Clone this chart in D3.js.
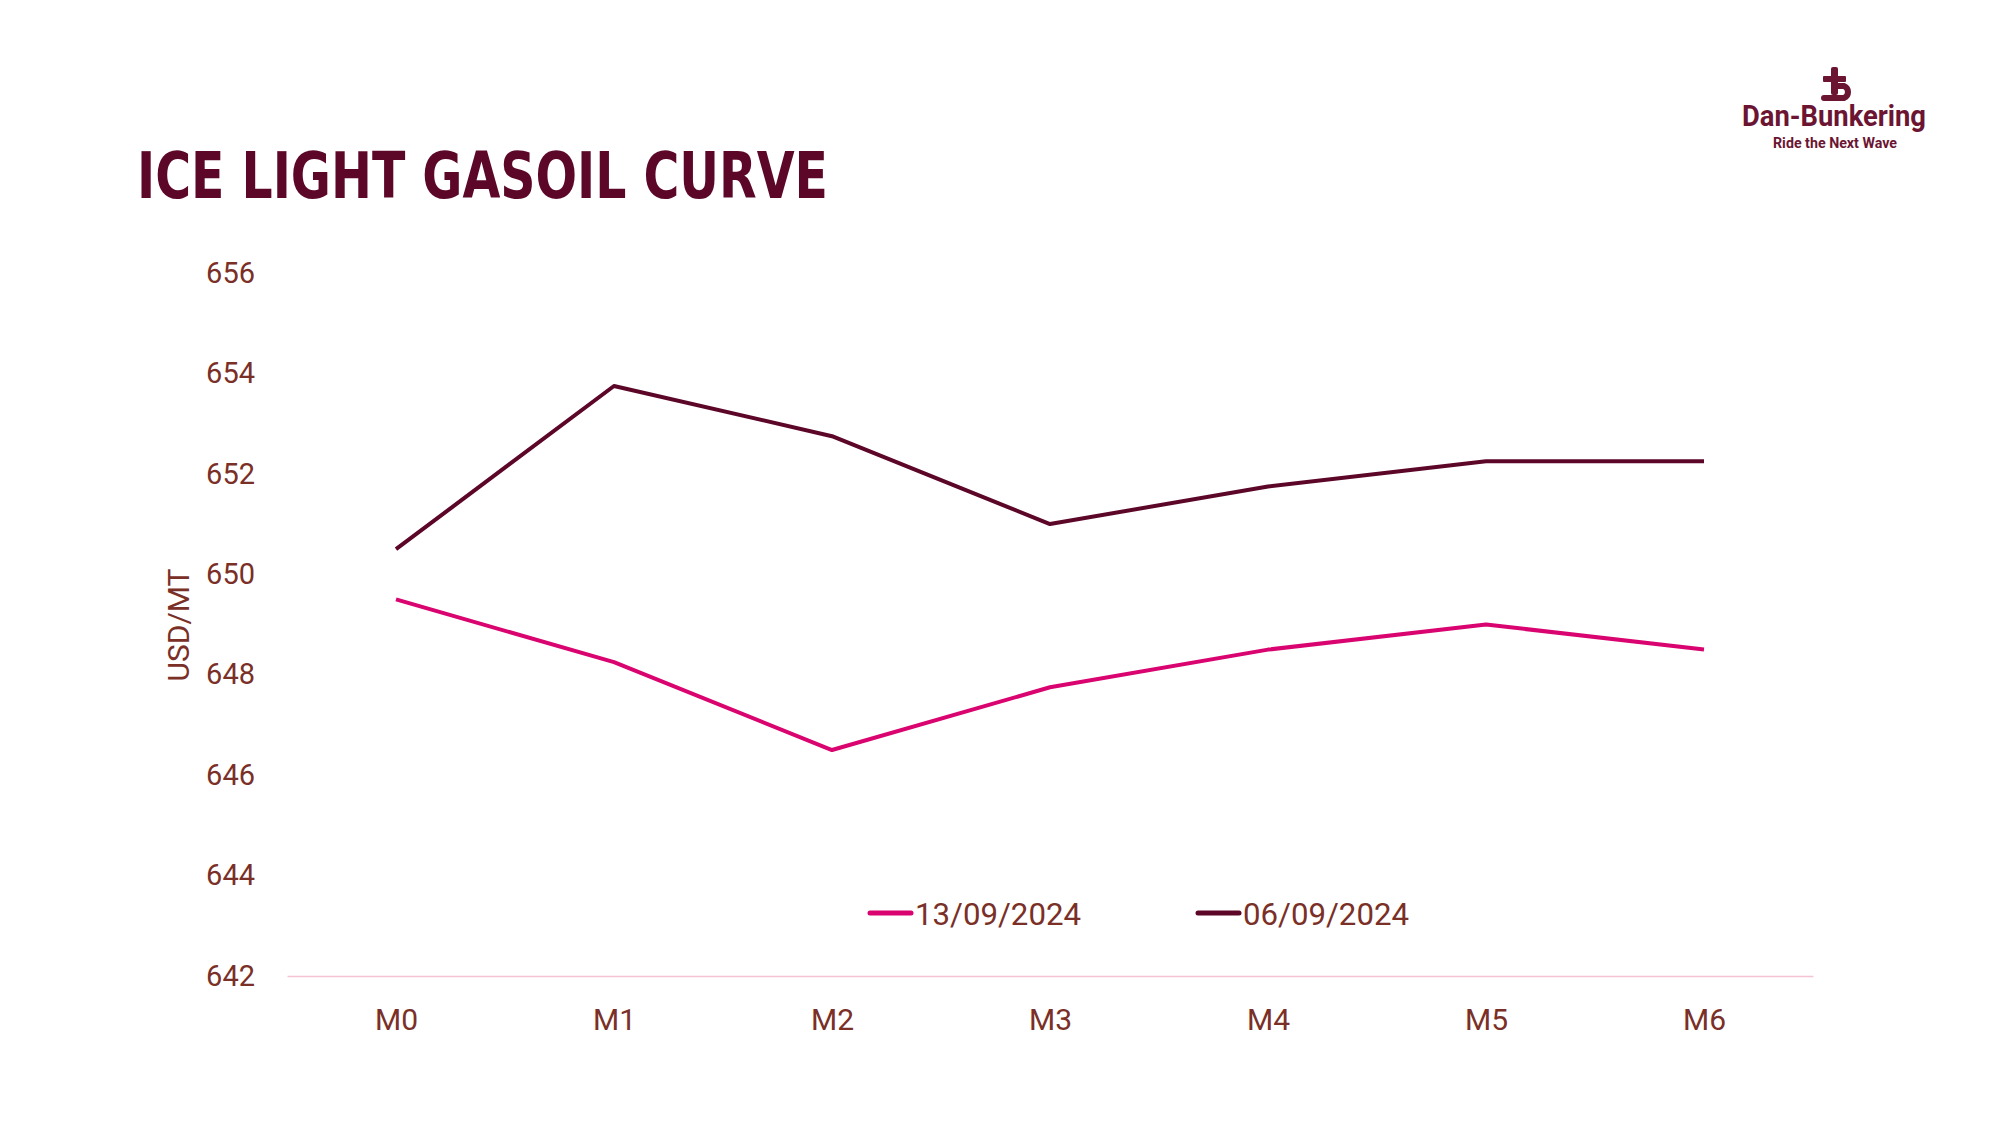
<!DOCTYPE html>
<html><head><meta charset="utf-8">
<script src="https://cdn.jsdelivr.net/npm/d3@7"></script>
<style>
html,body{margin:0;padding:0;background:#fff;}
svg{display:block;}
</style></head>
<body>
<svg id="chart" width="2000" height="1125"></svg>
<script>
const categories = ["M0","M1","M2","M3","M4","M5","M6"];
const seriesNames = ["13/09/2024","06/09/2024"];
const series1309 = [649.5,648.25,646.5,647.75,648.5,649.0,648.5];
const series0609 = [650.5,653.75,652.75,651.0,651.75,652.25,652.25];
const yTicks = [642,644,646,648,650,652,654,656];
const colors = ["#d9046f","#5c0628"];
const textColor = "#7a2f27";

const svg = d3.select("#chart");
svg.append("rect").attr("width",2000).attr("height",1125).attr("fill","#fff");

const x = d3.scalePoint().domain(categories).range([287,1813]).padding(0.5);
const y = d3.scaleLinear().domain([642,656]).range([976,273]);

// Title
svg.append("text").attr("x",137).attr("y",198)
  .attr("font-family","'DejaVu Sans Condensed', 'Noto Sans', sans-serif")
  .attr("font-weight","bold").attr("font-size",64).attr("fill","#5c0628")
  .attr("textLength",691).attr("lengthAdjust","spacingAndGlyphs")
  .text("ICE LIGHT GASOIL CURVE");

// Y axis
const yAxis = svg.append("g").attr("transform","translate(287,0)")
  .call(d3.axisLeft(y).tickValues(yTicks).tickSize(0).tickPadding(32).tickFormat(d3.format("d")));
yAxis.select(".domain").remove();
yAxis.selectAll("text").attr("font-family","Roboto, sans-serif").attr("font-size",29).attr("fill",textColor);

// X axis
const xAxis = svg.append("g").attr("transform","translate(0,976)")
  .call(d3.axisBottom(x).tickSize(0).tickPadding(33));
xAxis.select(".domain").attr("stroke","#f6c3d6").attr("stroke-width",1.5);
xAxis.selectAll("text").attr("font-family","Roboto, sans-serif").attr("font-size",30).attr("fill",textColor);

// Y axis title
svg.append("text").attr("transform","translate(189,625) rotate(-90)")
  .attr("text-anchor","middle").attr("font-family","Roboto, sans-serif")
  .attr("font-size",30).attr("fill",textColor).text("USD/MT");

// Lines
const line = d3.line().x((d,i)=>x(categories[i])).y(d=>y(d));
[series1309, series0609].forEach((s,k)=>{
  svg.append("path").datum(s).attr("d",line).attr("fill","none")
    .attr("stroke",colors[k]).attr("stroke-width",4).attr("stroke-linejoin","round");
});

// Legend
const legendX = [870,1198];
seriesNames.forEach((n,k)=>{
  const g = svg.append("g").attr("transform",`translate(${legendX[k]},913)`);
  g.append("line").attr("x1",0).attr("x2",41).attr("y1",0).attr("y2",0)
    .attr("stroke",colors[k]).attr("stroke-width",5).attr("stroke-linecap","round");
  g.append("text").attr("x",45).attr("y",0).attr("dy","0.36em")
    .attr("font-family","Roboto, sans-serif").attr("font-size",32)
    .attr("fill",textColor).attr("textLength",166).attr("lengthAdjust","spacingAndGlyphs").text(n);
});

// Logo
const logoColor = "#6b1533";
const logo = svg.append("g");
logo.append("rect").attr("x",1831).attr("y",67).attr("width",7).attr("height",28).attr("rx",2).attr("fill",logoColor);
logo.append("rect").attr("x",1823).attr("y",76).attr("width",23).attr("height",6).attr("rx",1).attr("fill",logoColor);
logo.append("path").attr("d","M1836,86 H1844 A6.5,6.5 0 0 1 1844,98 H1824")
  .attr("fill","none").attr("stroke",logoColor).attr("stroke-width",6).attr("stroke-linecap","round");
logo.append("text").attr("x",1742).attr("y",126)
  .attr("font-family","Roboto, sans-serif").attr("font-weight","bold").attr("fill",logoColor)
  .attr("font-size",30).attr("textLength",184).attr("lengthAdjust","spacingAndGlyphs").text("Dan-Bunkering");
logo.append("text").attr("x",1773).attr("y",148)
  .attr("font-family","Roboto, sans-serif").attr("font-weight","bold").attr("fill",logoColor)
  .attr("font-size",15).attr("textLength",124).attr("lengthAdjust","spacingAndGlyphs").text("Ride the Next Wave");
</script>
</body></html>
